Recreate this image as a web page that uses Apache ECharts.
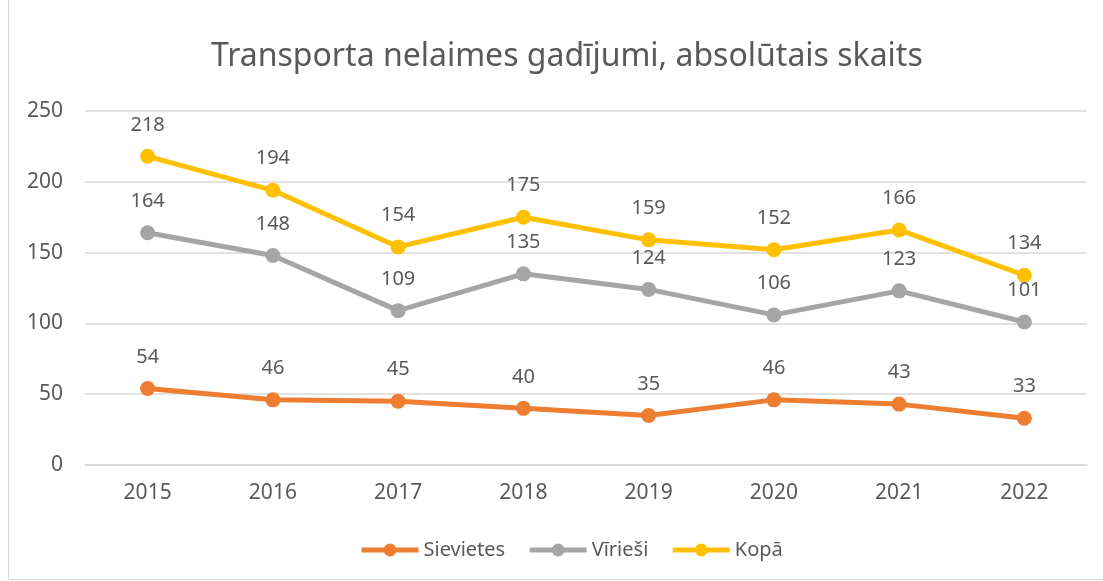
<!DOCTYPE html>
<html lang="lv">

<head>
  <meta charset="UTF-8">
  <title>Transporta nelaimes gadījumi</title>
  <script src="https://cdn.jsdelivr.net/npm/echarts@6/dist/echarts.min.js"></script>
  <style>
    html, body { margin: 0; padding: 0; background: #fff; }
    #frame {
      position: absolute;
      left: 8px;
      top: 0px;
      width: 1110px;
      height: 579px;
      border-left: 1px solid #d9d9d9;
      border-bottom: 1px solid #d9d9d9;
    }
    #chart { position: absolute; left: 0; top: 0; width: 1103px; height: 581px; }
  </style>
</head>

<body>
  <div id="frame"></div>
  <div id="chart"></div>
  <script>
    // dati
    const years = ['2015', '2016', '2017', '2018', '2019', '2020', '2021', '2022'];
    const sievietes = [54, 46, 45, 40, 35, 46, 43, 33];
    const virieSi = [164, 148, 109, 135, 124, 106, 123, 101];
    const kopa = [218, 194, 154, 175, 159, 152, 166, 134];

    const textColor = '#595959';
    const fontFam = '"Noto Sans", sans-serif';

    function lineSeries(name, data, color) {
      return {
        name: name,
        type: 'line',
        data: data,
        symbol: 'circle',
        symbolSize: 15,
        lineStyle: { color: color, width: 5 },
        itemStyle: { color: color },
        label: {
          show: true,
          position: 'top',
          distance: 14,
          color: textColor,
          fontSize: 20,
          fontFamily: fontFam
        },
        emphasis: { disabled: true }
      };
    }

    let chart = echarts.init(document.getElementById('chart'));
    chart.setOption({
      animation: false,
      title: {
        text: 'Transporta nelaimes gadījumi, absolūtais skaits',
        left: 206,
        top: 36,
        textStyle: {
          color: textColor,
          fontSize: 32,
          fontWeight: 'normal',
          fontFamily: fontFam
        }
      },
      legend: {
        bottom: 16,
        left: 354,
        itemWidth: 57,
        itemHeight: 16,
        itemGap: 22,
        lineStyle: { width: 5 },
        textStyle: { color: textColor, fontSize: 20, fontFamily: fontFam },
        data: ['Sievietes', 'Vīrieši', 'Kopā']
      },
      grid: {
        left: 85,
        right: 16,
        top: 111,
        bottom: 116
      },
      xAxis: {
        type: 'category',
        data: years,
        axisTick: { show: false },
        axisLine: { lineStyle: { color: '#d9d9d9', width: 1.5 } },
        axisLabel: {
          color: textColor,
          fontSize: 21,
          fontFamily: fontFam,
          margin: 18
        }
      },
      yAxis: {
        type: 'value',
        min: 0,
        max: 250,
        interval: 50,
        axisLine: { show: false },
        axisTick: { show: false },
        splitLine: { lineStyle: { color: '#d9d9d9', width: 1.5 } },
        axisLabel: {
          color: textColor,
          fontSize: 21,
          fontFamily: fontFam,
          margin: 22
        }
      },
      series: [
        lineSeries('Sievietes', sievietes, '#ed7d31'),
        lineSeries('Vīrieši', virieSi, '#a5a5a5'),
        lineSeries('Kopā', kopa, '#ffc000')
      ]
    });
  </script>
</body>

</html>
